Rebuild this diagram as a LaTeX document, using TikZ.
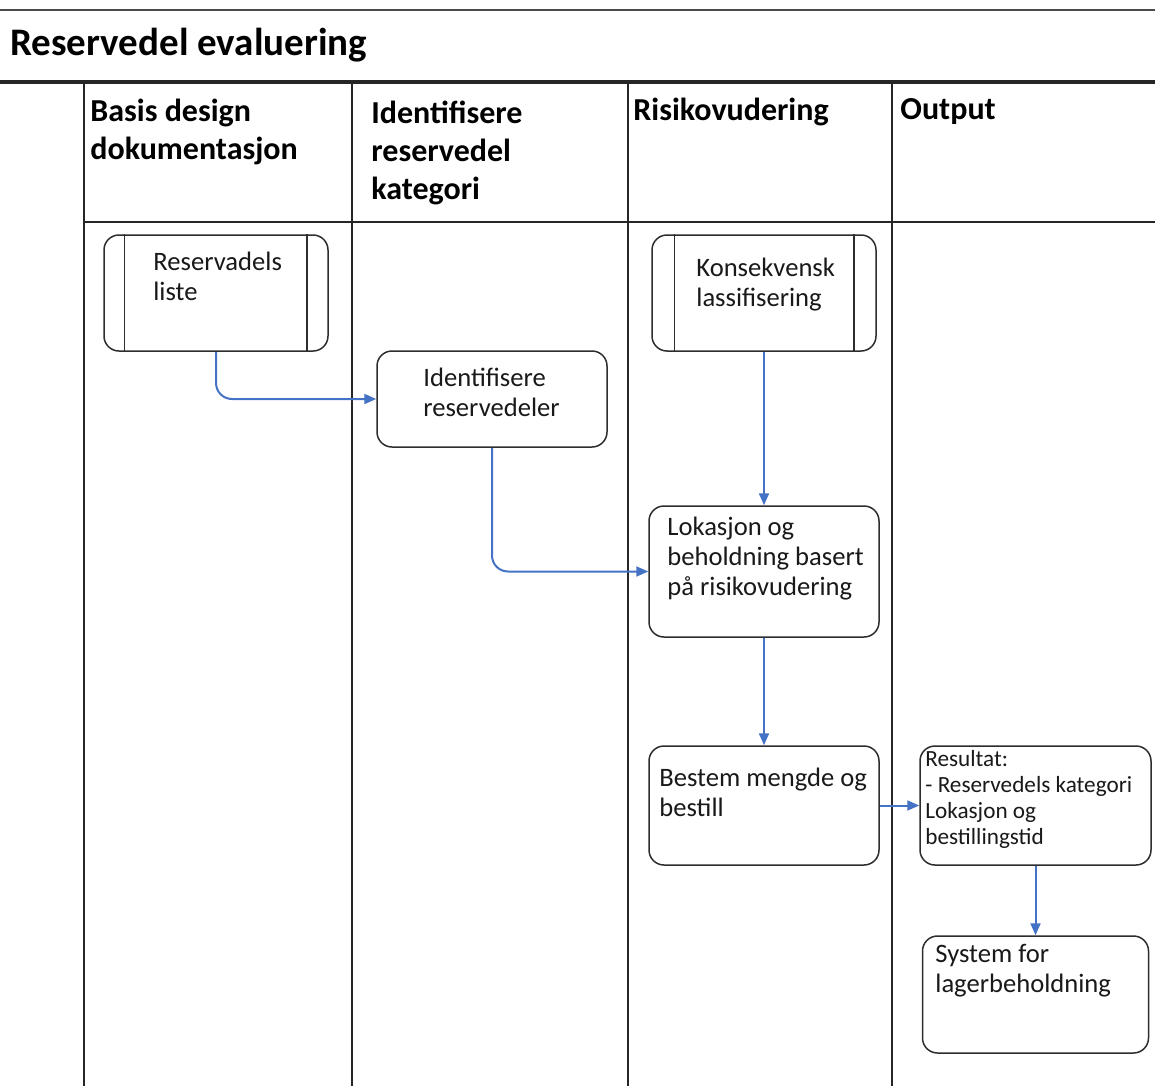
\documentclass[tikz,border=0pt]{standalone}
\usepackage{fontspec}
\setmainfont{Carlito}
\usetikzlibrary{arrows.meta}
\definecolor{flowblue}{RGB}{68,114,196}
\definecolor{boxline}{RGB}{45,45,45}
\begin{document}
\begin{tikzpicture}[x=0.5pt,y=-0.5pt,
  lane/.style={line width=1pt, draw=black!85},
  headtext/.style={anchor=north west, inner sep=0, align=left, font=\bfseries\fontsize{16}{19}\selectfont},
  flowbox/.style={draw=boxline, line width=0.75pt, rounded corners=7.5pt, inner sep=0, fill=white},
  boxtext/.style={anchor=north west, inner sep=0, align=left, font=\fontsize{13.3}{15}\selectfont, text=black!90},
  smalltext/.style={anchor=north west, inner sep=0, align=left, font=\fontsize{11.6}{13}\selectfont, text=black!90},
  flow/.style={draw=flowblue, line width=1pt, -{Triangle[length=6pt,width=5pt]}, rounded corners=8pt}
]
\useasboundingbox (0,0) rectangle (1155,1086);

% pool frame
\draw[line width=1.2pt, draw=black!70] (0,10) -- (1155,10);
\draw[line width=2pt, draw=black!85] (0,82) -- (1155,82);
\draw[lane] (84,222) -- (1155,222);
\foreach \lx in {84,352,628,892}
  \draw[lane] (\lx,82) -- (\lx,1086);

% title and lane headers
\node[anchor=north west, inner sep=0, font=\bfseries\fontsize{19.5}{22}\selectfont] (title) at (10,28) {Reservedel evaluering};
\node[headtext] (h1) at (90,99) {Basis design\\dokumentasjon};
\node[headtext] (h2) at (371,101) {Identifisere\\reservedel\\kategori};
\node[headtext] (h3) at (633,98) {Risikovudering};
\node[headtext] (h4) at (900,98) {Output};

% boxes
\node[flowbox, minimum width=112pt, minimum height=58pt] (b1) at (216,293) {};
\draw[boxline, line width=0.75pt] ([xshift=10.5pt]b1.north west) -- ([xshift=10.5pt]b1.south west);
\draw[boxline, line width=0.75pt] ([xshift=-11pt]b1.north east) -- ([xshift=-11pt]b1.south east);
\node[boxtext] (t1) at (153,252) {Reservadels\\liste};

\node[flowbox, minimum width=115pt, minimum height=48pt] (b2) at (492,399) {};
\node[boxtext] (t2) at (423,368) {Identifisere\\reservedeler};

\node[flowbox, minimum width=112pt, minimum height=58pt] (b3) at (764,293) {};
\draw[boxline, line width=0.75pt] ([xshift=11.5pt]b3.north west) -- ([xshift=11.5pt]b3.south west);
\draw[boxline, line width=0.75pt] ([xshift=-11.5pt]b3.north east) -- ([xshift=-11.5pt]b3.south east);
\node[boxtext] (t3) at (696,258) {Konsekvensk\\lassifisering};

\node[flowbox, minimum width=115pt, minimum height=65.5pt] (b4) at (764,571.5) {};
\node[boxtext] (t4) at (667,517) {Lokasjon og\\beholdning basert\\på risikovudering};

\node[flowbox, minimum width=115pt, minimum height=59.5pt] (b5) at (764,805.5) {};
\node[boxtext] (t5) at (659,768) {Bestem mengde og\\bestill};

\node[flowbox, minimum width=115.5pt, minimum height=59.5pt] (b6) at (1035.5,805.5) {};
\node[smalltext] (t6) at (925,750) {Resultat:\\- Reservedels kategori\\Lokasjon og\\bestillingstid};

\node[flowbox, minimum width=113pt, minimum height=58.5pt] (b7) at (1035.5,994.5) {};
\node[boxtext] (t7) at (935,944) {System for\\lagerbeholdning};

% connectors
\draw[flow] (b1.south) |- (b2.west);
\draw[flow] (b2.south) |- (b4.west);
\draw[flow] (b3.south) -- (b4.north);
\draw[flow] (b4.south) -- (b5.north);
\draw[flow] (b5.east) -- (b6.west);
\draw[flow] (b6.south) -- (b7.north);
\end{tikzpicture}
\end{document}
